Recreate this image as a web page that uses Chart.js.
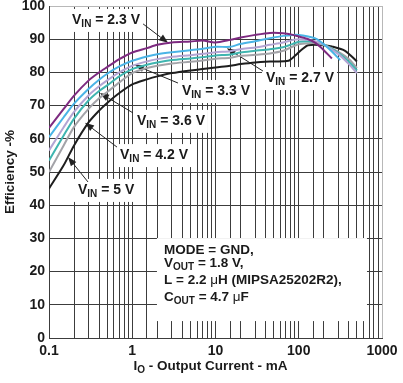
<!DOCTYPE html>
<html><head><meta charset="utf-8">
<script src="https://cdn.jsdelivr.net/npm/chart.js@4"></script>
<style>html,body{margin:0;padding:0;background:#fff}canvas{display:block}</style>
</head><body>
<canvas id="c" width="403" height="383"></canvas>
<script>
// ---- data ----
const seriesNames = ['VIN = 2.3 V','VIN = 2.7 V','VIN = 3.3 V','VIN = 3.6 V','VIN = 4.2 V','VIN = 5 V'];

const cur23 = [0.1,0.15,0.2,0.3,0.4,0.5,0.7,1,1.5,2,3,5,7,10,15,20,30,45,65,85,100,130,160,200,250];
const eff23 = [63.3,69,73,77.6,80,81.6,84,86,87.3,88.3,89,89.3,89.6,89,89.8,90.5,91.3,91.9,91.8,91.3,90.8,90,88.8,86.7,84.2];

const cur27 = [0.1,0.15,0.2,0.3,0.4,0.5,0.7,1,1.5,2,3,5,7,10,15,20,30,45,65,85,100,130,160,200,250,315];
const eff27 = [60.5,66.5,70.6,75.1,77.8,79.6,81.8,83.5,84.8,85.5,86.1,86.7,87.1,87.7,87.7,88.6,89.4,90.3,91,91.3,91.3,90.8,90.2,88.5,86.3,83.7];

const cur33 = [0.1,0.15,0.2,0.3,0.4,0.5,0.7,1,1.5,2,3,5,7,10,15,20,30,45,65,85,100,130,160,200,300,400,500];
const eff33 = [56.5,63.5,68.1,73.1,75.8,77.6,80,82,83.3,84,84.7,85.2,85.6,86.1,86.4,87,87.5,88.3,89,89.8,90,89.8,89.3,88.4,85.5,82.5,79.8];

const cur36 = [0.1,0.15,0.2,0.3,0.4,0.5,0.7,1,1.5,2,3,5,7,10,15,20,30,45,65,85,100,130,160,200,300,400,500];
const eff36 = [53.5,61,66.1,71.6,74.4,76.1,78.8,81,82.3,83,83.7,84.2,84.6,85.1,85.4,86,86.5,87,87.6,88.6,89.2,89.4,89.2,88.4,85.8,83.2,80.6];

const cur42 = [0.1,0.15,0.2,0.3,0.4,0.5,0.7,1,1.5,2,3,5,7,10,15,20,30,45,65,85,100,130,160,200,300,400,500];
const eff42 = [50,58,63.6,69.1,72.2,74.1,77,79.8,81.3,82,82.7,83.2,83.6,84.1,84.4,85,85.3,85.7,86.5,87.8,88.5,88.8,88.8,88.3,86.2,84,81.3];

const cur50 = [0.1,0.15,0.2,0.3,0.4,0.5,0.7,1,1.5,2,3,5,7,10,15,20,30,50,75,90,110,130,200,250,360,500];
const eff50 = [45,52,58,65,68.5,70.8,73.8,76.4,77.9,78.8,79.8,80.6,81,81.5,82,82.5,83,83.3,83.5,85,87,88.2,88.2,87.8,86.5,83.3];

const xTickLabels = ['0.1','1','10','100','1000'];
const yTickValues = [0,10,20,30,40,50,60,70,80,90,100];

const conditionLines = ['MODE = GND,', 'VOUT = 1.8 V,', 'L = 2.2 μH (MIPSA25202R2),', 'COUT = 4.7 μF'];

// ---- styling ----
const FONT = '"Liberation Sans", Arial, Helvetica, sans-serif';
const colors = ['#7d2a80','#4ab4e6','#b3a5d4','#3fb5b0','#a3a3a8','#1e1e1e'];

const allCur = [cur23,cur27,cur33,cur36,cur42,cur50];
const allEff = [eff23,eff27,eff33,eff36,eff42,eff50];

const datasets = allCur.map((cur,i)=>({
  label: seriesNames[i],
  data: cur.map((c,j)=>({x:c, y:allEff[i][j]})),
  borderColor: colors[i],
  borderWidth: 2,
  pointRadius: 0,
  fill: false,
  tension: 0.25
}));

// annotation placement (data coordinates: mA, %)
const notes = [
  {sub:'IN', rest:' = 2.3 V', at:[0.189,95.8], from:[1.35,94.6], to:[2.69,88.9]},
  {sub:'IN', rest:' = 2.7 V', at:[40.4,78.3], from:[37.2,80.4], to:[13.7,87.3]},
  {sub:'IN', rest:' = 3.3 V', at:[3.96,74.4], from:[3.54,76.8], to:[1.08,82.2]},
  {sub:'IN', rest:' = 3.6 V', at:[1.14,65.4], from:[1.02,67.8], to:[0.41,73.8]},
  {sub:'IN', rest:' = 4.2 V', at:[0.713,55.1], from:[0.656,57.5], to:[0.271,64.8]},
  {sub:'IN', rest:' = 5 V', at:[0.223,44.6], from:[0.294,47], to:[0.169,54.5]}
];
const condBox = {x0:1.98, y0:30.1, x1:660, y1:5.1, textX:2.41, rows:[26.5,22.4,17.5,12.3]};

function richWidth(ctx, segs){
  let w=0;
  for(const s of segs){ ctx.font = s.font; w += ctx.measureText(s.t).width; }
  return w;
}
function richDraw(ctx, x, y, segs){
  for(const s of segs){
    ctx.font = s.font;
    ctx.fillText(s.t, x, y + (s.dy||0));
    x += ctx.measureText(s.t).width;
  }
}
function mainF(sz){ return 'bold '+sz+'px '+FONT; }

function arrow(ctx, x0,y0,x1,y1){
  ctx.strokeStyle='#222'; ctx.fillStyle='#222'; ctx.lineWidth=1;
  const a = Math.atan2(y1-y0, x1-x0);
  const L=9, W=3.5;
  const bx = x1 - L*Math.cos(a), by = y1 - L*Math.sin(a);
  ctx.beginPath(); ctx.moveTo(x0,y0); ctx.lineTo(bx,by); ctx.stroke();
  ctx.beginPath();
  ctx.moveTo(x1,y1);
  ctx.lineTo(bx + W*Math.sin(a), by - W*Math.cos(a));
  ctx.lineTo(bx - W*Math.sin(a), by + W*Math.cos(a));
  ctx.closePath(); ctx.fill();
}

const notesPlugin = {
  id:'notes',
  beforeDatasetsDraw(chart){
    const ctx = chart.ctx, xs = chart.scales.x, ys = chart.scales.y;
    ctx.save();
    ctx.textBaseline='middle';
    // condition box
    const bx0 = xs.getPixelForValue(condBox.x0), bx1 = xs.getPixelForValue(condBox.x1);
    const by0 = ys.getPixelForValue(condBox.y0), by1 = ys.getPixelForValue(condBox.y1);
    ctx.fillStyle='#fff';
    ctx.fillRect(bx0, by0, bx1-bx0, by1-by0);
    const tx = xs.getPixelForValue(condBox.textX);
    const fs = 13.5, ss = 10;
    const rows = [
      [{t:'MODE = GND,', font:mainF(fs)}],
      [{t:'V', font:mainF(fs)},{t:'OUT', font:mainF(ss), dy:4},{t:' = 1.8 V,', font:mainF(fs)}],
      [{t:'L = 2.2 ', font:mainF(fs)},{t:'μ', font:fs+'px '+FONT},{t:'H (MIPSA25202R2),', font:mainF(fs)}],
      [{t:'C', font:mainF(fs)},{t:'OUT', font:mainF(ss), dy:4},{t:' = 4.7 ', font:mainF(fs)},{t:'μ', font:fs+'px '+FONT},{t:'F', font:mainF(fs)}]
    ];
    ctx.fillStyle='#1a1a1a';
    rows.forEach((r,i)=>richDraw(ctx, tx, ys.getPixelForValue(condBox.rows[i]), r));

    // VIN labels
    for(const n of notes){
      const segs=[{t:'V', font:mainF(14)},{t:n.sub, font:mainF(10), dy:4},{t:n.rest, font:mainF(14)}];
      const x = xs.getPixelForValue(n.at[0]), y = ys.getPixelForValue(n.at[1]);
      const w = richWidth(ctx, segs);
      ctx.fillStyle='#fff';
      ctx.fillRect(x-4, y-11, w+7, 23);
    }
    for(const n of notes){
      const segs=[{t:'V', font:mainF(14)},{t:n.sub, font:mainF(10), dy:4},{t:n.rest, font:mainF(14)}];
      const x = xs.getPixelForValue(n.at[0]), y = ys.getPixelForValue(n.at[1]);
      ctx.fillStyle='#1a1a1a';
      richDraw(ctx, x, y, segs);
      arrow(ctx, xs.getPixelForValue(n.from[0]), ys.getPixelForValue(n.from[1]),
                 xs.getPixelForValue(n.to[0]), ys.getPixelForValue(n.to[1]));
    }
    ctx.restore();
  },
  afterDraw(chart){
    const ctx = chart.ctx, ca = chart.chartArea;
    ctx.save();
    ctx.fillStyle='#1a1a1a';
    ctx.textBaseline='middle';
    // x title
    const segs=[{t:'I', font:mainF(13.5)},{t:'O', font:mainF(10), dy:4},{t:' - Output Current - mA', font:mainF(13.5)}];
    const w = richWidth(ctx, segs);
    richDraw(ctx, (ca.left+ca.right)/2 - 5 - w/2, 366, segs);
    // y title
    ctx.translate(10, (ca.top+ca.bottom)/2);
    ctx.rotate(-Math.PI/2);
    ctx.font = mainF(13.5);
    ctx.textAlign='center';
    ctx.fillText('Efficiency -%', 0, 0);
    ctx.restore();
  }
};

const isDecade = v => { const l=Math.log10(v); return Math.abs(l-Math.round(l))<1e-6; };

new Chart(document.getElementById('c'), {
  type:'line',
  data:{ datasets: datasets.slice() },
  options:{
    responsive:false,
    animation:false,
    events:[],
    layout:{ padding:{ top:6, right:21, left:0, bottom:0 } },
    plugins:{ legend:{display:false}, tooltip:{enabled:false}, title:{display:false} },
    scales:{
      x:{
        type:'logarithmic', min:0.1, max:1000,
        afterFit(s){ s.height = 45; s.paddingLeft=0; s.paddingRight=0; },
        grid:{ drawTicks:false, lineWidth:1,
          color:c=> (c.tick && Math.abs(c.tick.value-1000)<1e-6) ? '#b8b8b8' : '#3c3c3c' },
        border:{ color:'#3c3c3c', width:1 },
        ticks:{ autoSkip:false, maxRotation:0, padding:5, color:'#1a1a1a',
          font:{ family:FONT, size:14, weight:'bold' },
          callback:(v)=> isDecade(v) ? xTickLabels[Math.round(Math.log10(v))+1] : '' }
      },
      y:{
        min:0, max:100,
        afterFit(s){ s.width = 49; s.paddingTop=0; s.paddingBottom=0; },
        afterBuildTicks(s){ s.ticks = yTickValues.map(v=>({value:v})); },
        grid:{ drawTicks:false, lineWidth:1,
          color:c=> (c.tick && c.tick.value===100) ? '#b8b8b8' : '#3c3c3c' },
        border:{ color:'#3c3c3c', width:1 },
        ticks:{ padding:4, color:'#1a1a1a', font:{ family:FONT, size:14, weight:'bold' } }
      }
    }
  },
  plugins:[notesPlugin]
});
</script>
</body></html>
